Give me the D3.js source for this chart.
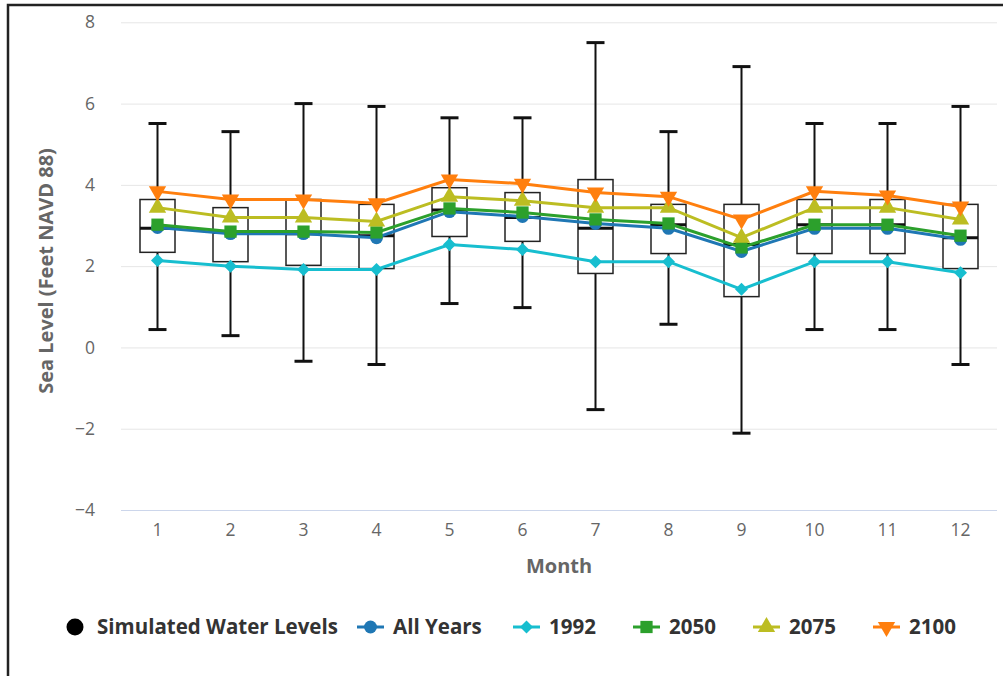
<!DOCTYPE html>
<html><head><meta charset="utf-8">
<script src="https://cdn.jsdelivr.net/npm/d3@7"></script>
<style>body{margin:0;background:#fff}svg{display:block;font-family:"Open Sans",sans-serif}</style>
</head><body><svg id="c" width="1003" height="676"></svg>
<script>
const months = ["1","2","3","4","5","6","7","8","9","10","11","12"];
const boxLow    = [0.44, 0.29, -0.34, -0.42, 1.08, 0.98, -1.53, 0.57, -2.11, 0.44, 0.44, -0.42];
const boxQ1     = [2.34, 2.11, 2.02, 1.94, 2.73, 2.61, 1.82, 2.31, 1.25, 2.31, 2.31, 1.94];
const boxMedian = [2.93, 2.83, 2.80, 2.75, 3.38, 3.20, 2.93, 3.02, 2.53, 3.02, 3.02, 2.70];
const boxQ3     = [3.64, 3.44, 3.64, 3.52, 3.93, 3.81, 4.13, 3.52, 3.52, 3.64, 3.64, 3.52];
const boxHigh   = [5.51, 5.31, 6.00, 5.93, 5.65, 5.65, 7.50, 5.31, 6.91, 5.51, 5.51, 5.93];
const allYears  = [2.95, 2.80, 2.80, 2.70, 3.34, 3.22, 3.05, 2.93, 2.36, 2.93, 2.93, 2.66];
const y1992     = [2.14, 2.00, 1.92, 1.92, 2.53, 2.41, 2.11, 2.11, 1.43, 2.11, 2.11, 1.84];
const y2050     = [3.02, 2.85, 2.85, 2.83, 3.42, 3.32, 3.15, 3.05, 2.46, 3.02, 3.02, 2.75];
const y2075     = [3.44, 3.20, 3.20, 3.10, 3.71, 3.61, 3.44, 3.44, 2.70, 3.44, 3.44, 3.15];
const y2100     = [3.84, 3.64, 3.64, 3.55, 4.13, 4.03, 3.81, 3.71, 3.15, 3.84, 3.74, 3.47];
const yTicks    = [-4, -2, 0, 2, 4, 6, 8];
const seriesNames = ["All Years", "1992", "2050", "2075", "2100"];
const seriesColors = ["#1f77b4", "#17becf", "#2ca02c", "#bcbd22", "#ff7f0e"];
const seriesSymbols = ["circle", "diamond", "square", "up", "down"];
const seriesData = [allYears, y1992, y2050, y2075, y2100];

const svg = d3.select("#c");
// frame
svg.append("rect").attr("x",8).attr("y",5).attr("width",1010).attr("height",700)
  .attr("fill","none").attr("stroke","#222").attr("stroke-width",2.5);

const L = 121, R = 997, T = 22.3, B = 510;
const x = d3.scaleBand().domain(months).range([L, R]);
const y = d3.scaleLinear().domain([-4, 8]).range([B, T]);
const cx = m => x(m) + x.bandwidth()/2;

// gridlines
const grid = svg.append("g").call(d3.axisLeft(y).tickValues(yTicks).tickSize(-(R-L)).tickFormat(""))
  .attr("transform",`translate(${L},0)`);
grid.select(".domain").remove();
grid.selectAll("line").attr("stroke","#e6e6e6").attr("stroke-width",1);
grid.selectAll("line").filter(d=>d===-4).attr("stroke","#ccd6eb");

// y labels
const ya = svg.append("g").attr("transform",`translate(${L},0)`)
  .call(d3.axisLeft(y).tickValues(yTicks).tickSize(0).tickPadding(26).tickFormat(d=>d<0?"−"+Math.abs(d):d));
ya.select(".domain").remove();
ya.selectAll("text").attr("fill","#666").attr("font-size",17.5).attr("font-family","Open Sans, sans-serif");

// x labels
const xa = svg.append("g").attr("transform",`translate(0,${B})`)
  .call(d3.axisBottom(x).tickSize(0).tickPadding(14));
xa.select(".domain").remove();
xa.selectAll("text").attr("fill","#666").attr("font-size",17.5).attr("font-family","Open Sans, sans-serif");

// axis titles
svg.append("text").attr("transform",`translate(53,${271}) rotate(-90)`)
  .attr("text-anchor","middle").attr("fill","#666").attr("font-size",20).attr("font-weight","bold")
  .text("Sea Level (Feet NAVD 88)");
svg.append("text").attr("x",559).attr("y",573).attr("text-anchor","middle")
  .attr("fill","#666").attr("font-size",20).attr("font-weight","bold").text("Month");

// box plots
const bw = 35, cw = 18;
const boxes = svg.append("g");
months.forEach((m,i)=>{
  const g = boxes.append("g");
  const c = cx(m);
  g.append("line").attr("x1",c).attr("x2",c).attr("y1",y(boxHigh[i])).attr("y2",y(boxLow[i]))
    .attr("stroke","#111").attr("stroke-width",2);
  g.append("line").attr("x1",c-cw/2).attr("x2",c+cw/2).attr("y1",y(boxHigh[i])).attr("y2",y(boxHigh[i]))
    .attr("stroke","#111").attr("stroke-width",3);
  g.append("line").attr("x1",c-cw/2).attr("x2",c+cw/2).attr("y1",y(boxLow[i])).attr("y2",y(boxLow[i]))
    .attr("stroke","#111").attr("stroke-width",3);
  g.append("rect").attr("x",c-bw/2).attr("width",bw).attr("y",y(boxQ3[i])).attr("height",y(boxQ1[i])-y(boxQ3[i]))
    .attr("fill","#fff").attr("stroke","#222").attr("stroke-width",1.5);
  g.append("line").attr("x1",c-bw/2).attr("x2",c+bw/2).attr("y1",y(boxMedian[i])).attr("y2",y(boxMedian[i]))
    .attr("stroke","#111").attr("stroke-width",3);
});

function symPath(s){
  switch(s){
    case "circle": return d3.symbol(d3.symbolCircle, 130)();
    case "diamond": return d3.symbol(d3.symbolSquare, 85)();
    case "square": return d3.symbol(d3.symbolSquare, 150)();
    default: return d3.symbol(d3.symbolTriangle, 130)();
  }
}
function symRot(s){ return s==="down" ? " rotate(180)" : s==="diamond" ? " rotate(45)" : ""; }

// series lines
seriesData.forEach((vals, k)=>{
  const g = svg.append("g");
  const line = d3.line().x((d,i)=>cx(months[i])).y(d=>y(d));
  g.append("path").datum(vals).attr("d",line).attr("fill","none")
    .attr("stroke",seriesColors[k]).attr("stroke-width",3);
  g.selectAll("path.m").data(vals).join("path").attr("class","m")
    .attr("d", symPath(seriesSymbols[k]))
    .attr("transform",(d,i)=>`translate(${cx(months[i])},${y(d)})` + symRot(seriesSymbols[k]))
    .attr("fill",seriesColors[k]);
});

// legend
const lg = svg.append("g").attr("font-size",20.5).attr("font-weight","bold").attr("fill","#333");
lg.append("circle").attr("cx",75).attr("cy",627).attr("r",8.5).attr("fill","#000");
lg.append("text").attr("x",97).attr("y",634).attr("fill","#333").text("Simulated Water Levels");
const legX = [357, 513, 633, 753, 873];
seriesNames.forEach((n,k)=>{
  const sx = legX[k];
  lg.append("line").attr("x1",sx).attr("x2",sx+27).attr("y1",627).attr("y2",627)
    .attr("stroke",seriesColors[k]).attr("stroke-width",3);
  lg.append("path").attr("d",symPath(seriesSymbols[k]))
    .attr("transform",`translate(${sx+13.5},627)`+symRot(seriesSymbols[k]))
    .attr("fill",seriesColors[k]);
  lg.append("text").attr("x",sx+36).attr("y",634).attr("fill","#333").text(n);
});
</script></body></html>
